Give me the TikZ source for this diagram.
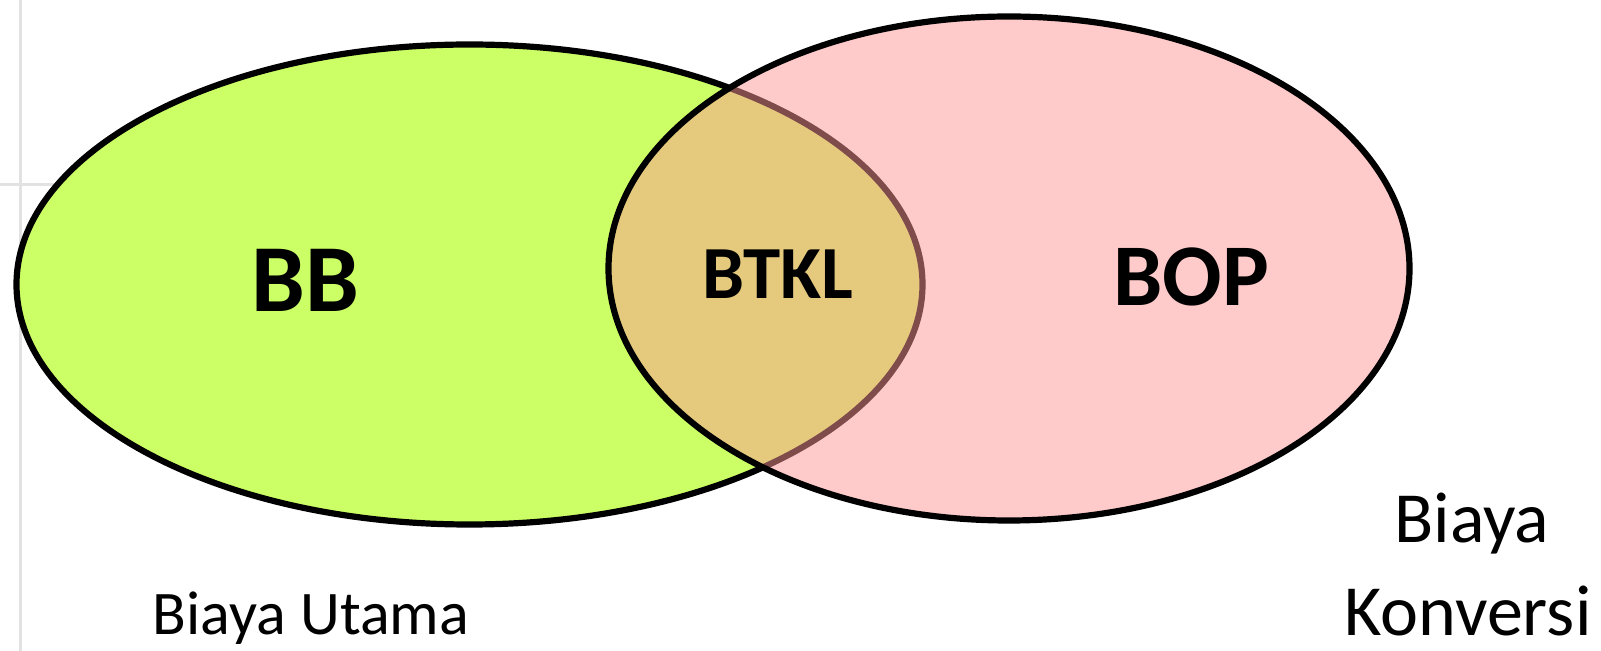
\documentclass[tikz,border=0pt]{standalone}
\usepackage{fontspec}
\setmainfont{Carlito}
\definecolor{bbgreen}{HTML}{CCFF66}
\definecolor{boppink}{HTML}{FE9696}
\definecolor{gridgray}{HTML}{E2E2E2}
\tikzset{
  grid line/.style={draw=gridgray, line width=1.5pt},
  set outline/.style={draw=black, line width=3.1pt},
  big label/.style={anchor=base, inner sep=0pt, font=\bfseries},
  caption label/.style={anchor=base, inner sep=0pt},
}
\begin{document}
\begin{tikzpicture}[x=0.5pt,y=-0.5pt]
\useasboundingbox (0,0) rectangle (1601,651);
% faint background grid lines
\coordinate (g1a) at (20,0);   \coordinate (g1b) at (20,651);
\coordinate (g2a) at (0,185);  \coordinate (g2b) at (120,185);
\coordinate (g3a) at (288,500); \coordinate (g3b) at (288,651);
\draw[grid line] (g1a) -- (g1b);
\draw[grid line] (g2a) -- (g2b);
\draw[grid line, draw=gridgray!120!black!90] (g3a) -- (g3b);
% left set
\coordinate (cBB) at (469.5,284.5);
\coordinate (cBOP) at (1009,268.5);
\fill[bbgreen] (cBB) ellipse [x radius=453, y radius=240];
\draw[set outline] (cBB) ellipse [x radius=453, y radius=240];
% right set (semi-transparent)
\fill[boppink, fill opacity=0.5] (cBOP) ellipse [x radius=400.5, y radius=252];
\draw[set outline] (cBOP) ellipse [x radius=400.5, y radius=252];
% labels
\node[big label, font=\bfseries\fontsize{48}{58}\selectfont] (bb) at (305,312) {BB};
\node[big label, font=\bfseries\fontsize{37.5}{45}\selectfont] (btkl) at (778,299) {BTKL};
\node[big label, font=\bfseries\fontsize{44}{53}\selectfont] (bop) at (1191,306) {BOP};
\node[caption label, font=\fontsize{31}{37}\selectfont] (bu) at (311,635) {Biaya Utama};
\node[caption label, font=\fontsize{36}{43}\selectfont] (bk1) at (1472,543) {Biaya};
\node[caption label, font=\fontsize{36}{43}\selectfont] (bk2) at (1468,636) {Konversi};
\end{tikzpicture}
\end{document}
